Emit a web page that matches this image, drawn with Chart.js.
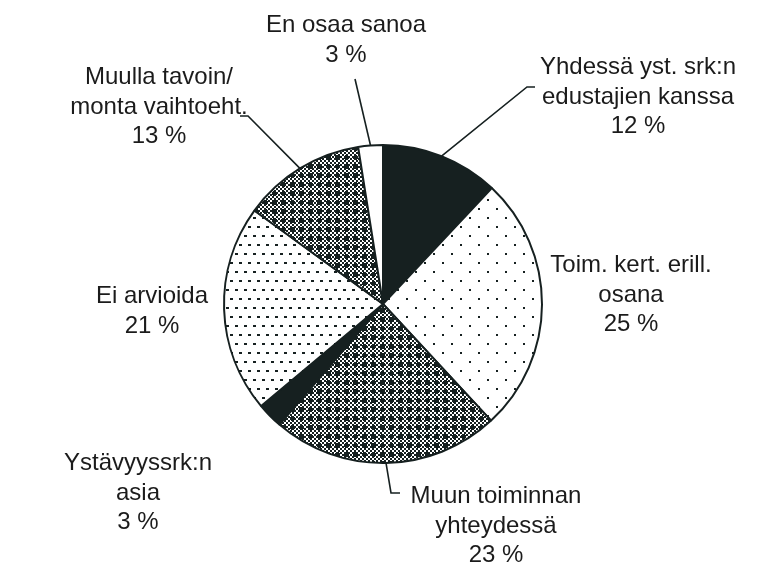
<!DOCTYPE html>
<html><head><meta charset="utf-8">
<script src="https://cdn.jsdelivr.net/npm/chart.js@4/dist/chart.umd.min.js"></script>
<style>html,body{margin:0;padding:0;background:#fff;}#wrap{width:767px;height:565px;position:relative;}</style>
</head><body><div id="wrap"><canvas id="c"></canvas></div>
<script>
// ---- data ----
const categories = ['Yhdessä yst. srk:n edustajien kanssa','Toim. kert. erill. osana','Muun toiminnan yhteydessä','Ystävyyssrk:n asia','Ei arvioida','Muulla tavoin/ monta vaihtoeht.','En osaa sanoa'];
const labelLines = [['Yhdessä yst. srk:n','edustajien kanssa'],['Toim. kert. erill.','osana'],['Muun toiminnan','yhteydessä'],['Ystävyyssrk:n','asia'],['Ei arvioida'],['Muulla tavoin/','monta vaihtoeht.'],['En osaa sanoa']];
const percentLabels = ['12 %','25 %','23 %','3 %','21 %','13 %','3 %'];
const shares = [12.0, 26.1, 23.2, 2.6, 21.1, 12.5, 2.5];

// ---- styling ----
const INK = '#162020';
const canvas = document.getElementById('c');
const ctx = canvas.getContext('2d');
function tile(w,h,draw){const c=document.createElement('canvas');c.width=w;c.height=h;const g=c.getContext('2d');g.fillStyle='#fff';g.fillRect(0,0,w,h);g.fillStyle=INK;draw(g);return ctx.createPattern(c,'repeat');}
const sparseDots = tile(18,18,g=>{g.fillRect(1,1,2,2);g.fillRect(10,10,2,2);});
const denseDots = tile(18,18,g=>{g.fillRect(1,1,3,2);g.fillRect(10,1,3,2);g.fillRect(5,10,3,2);g.fillRect(14,10,3,2);});
function checkerDots(g){
  for(let y=0;y<36;y+=2)for(let x=0;x<36;x+=2){if(((x/2)+(y/2))%2===0)g.fillRect(x,y,2,2);}
  for(let i=0;i<4;i++)for(let j=0;j<4;j++){const cx=4+9*i,cy=4+9*j;g.fillRect(cx-1,cy-2,3,5);g.fillRect(cx-2,cy-1,5,3);}
}
const checker = tile(36,36,checkerDots);
const fills = [INK, sparseDots, checker, INK, denseDots, checker, '#ffffff'];

// label anchors (text centre / first baseline, as offsets from pie centre) and leader elbows
const labelPos = [[255,-230],[248,-32],[113,199],[-245,166],[-231,-1],[-224,-220],[-37,-272]];
const leaders = {0:[[144,-217],[152,-217]],2:[[8,189],[17,189]],5:[[-135,-188],[-143,-188]],6:[[-28,-225]]};

const labelPlugin = {
  id:'labels',
  afterDatasetsDraw(chart){
    const c = chart.ctx;
    const arcs = chart.getDatasetMeta(0).data;
    const cx = arcs[0].x, cy = arcs[0].y;
    c.save();
    c.strokeStyle = INK; c.lineWidth = 1.6; c.lineJoin='miter';
    Object.keys(leaders).forEach(k=>{
      const a = arcs[k];
      const mid = (a.startAngle + a.endAngle)/2;
      c.beginPath();
      c.moveTo(cx + Math.cos(mid)*a.outerRadius, cy + Math.sin(mid)*a.outerRadius);
      leaders[k].forEach(p=>c.lineTo(cx+p[0], cy+p[1]));
      c.stroke();
    });
    c.fillStyle = '#1b1b1b';
    c.font = '24px "Liberation Sans", Arial, sans-serif';
    c.textAlign = 'center'; c.textBaseline = 'alphabetic';
    const lh = 29.5;
    labelLines.forEach((lines,i)=>{
      const all = lines.concat([percentLabels[i]]);
      all.forEach((t,j)=>c.fillText(t, cx+labelPos[i][0], cy+labelPos[i][1]+j*lh));
    });
    c.restore();
  }
};

new Chart(canvas, {
  type:'pie',
  data:{labels:categories, datasets:[{data:shares, backgroundColor:fills, borderColor:INK, borderWidth:2}]},
  options:{responsive:true, maintainAspectRatio:false, animation:false,
    layout:{padding:{left:223,right:224,top:144,bottom:101}},
    plugins:{legend:{display:false}, tooltip:{enabled:false}}},
  plugins:[labelPlugin]
});
</script></body></html>
